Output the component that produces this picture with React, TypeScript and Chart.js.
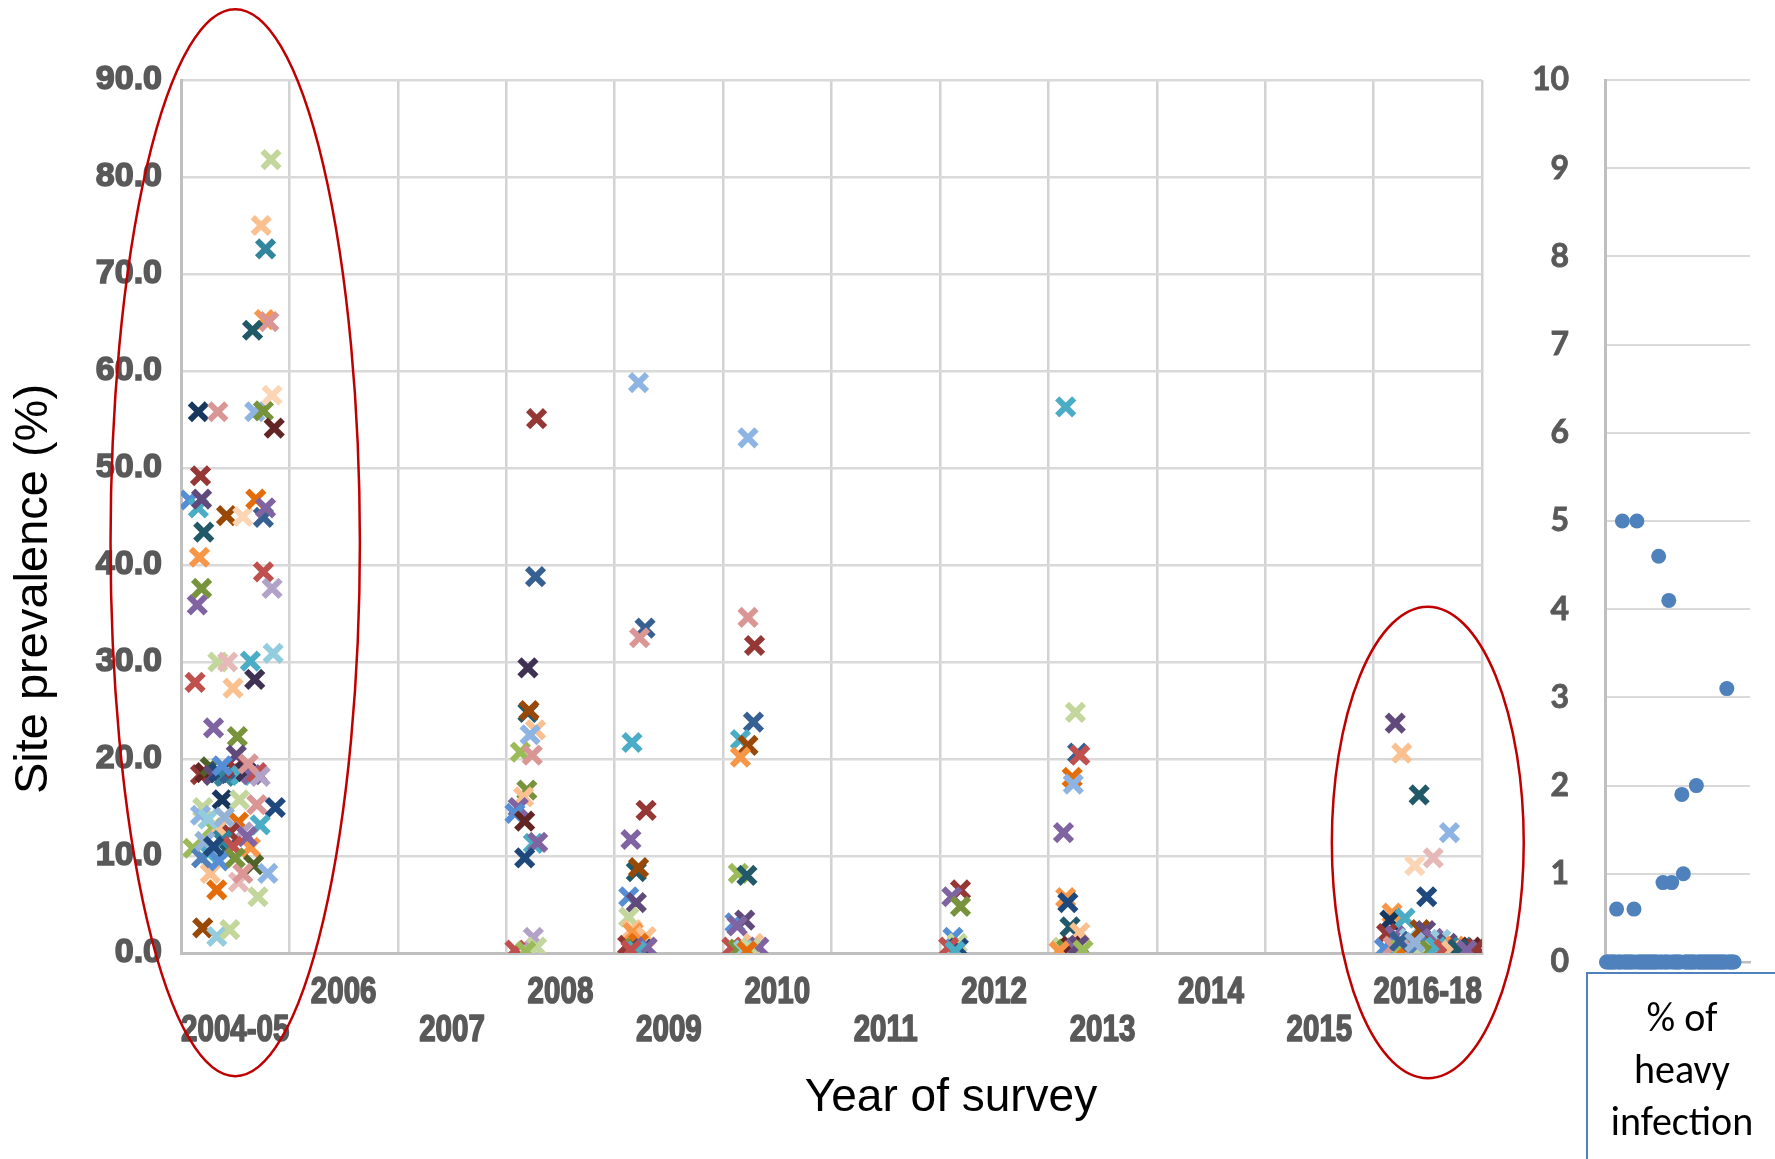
import { useEffect, useRef } from "react";
import { Chart, registerables } from "chart.js";

Chart.register(...registerables);

// ---------- categories ----------
const YEARS = ["2004-05", "2006", "2007", "2008", "2009", "2010", "2011", "2012", "2013", "2014", "2015", "2016-18"];

// ---------- colour palette (Office theme variants) ----------
const PALETTE = [
  "#4F81BD", "#C0504D", "#9BBB59", "#8064A2", "#4BACC6", "#F79646", "#1F497D", "#953735",
  "#77933C", "#604A7B", "#31859C", "#E46C0A", "#95B3D7", "#D99694", "#C3D69B", "#B3A2C7",
  "#93CDDD", "#FAC090", "#17375E", "#632523", "#4F6228", "#3F3151", "#215968", "#984807",
  "#558ED5", "#8EB4E3", "#FCD5B5", "#E6B9B8", "#376092",
];

// ---------- site prevalence (%) : [position within year, value] ----------
const pts2004_05 = [
  [0.83, 81.8], [0.74, 75.0], [0.78, 72.6], [0.77, 65.3], [0.81, 65.1], [0.66, 64.2],
  [0.16, 55.8], [0.34, 55.8], [0.68, 55.8], [0.76, 55.9], [0.84, 57.5], [0.86, 54.1],
  [0.18, 49.2], [0.08, 46.7], [0.16, 45.9], [0.19, 46.8], [0.21, 43.4], [0.17, 40.8],
  [0.19, 37.6], [0.15, 35.9], [0.42, 45.1], [0.57, 45.0], [0.69, 46.8], [0.76, 44.9],
  [0.78, 45.9], [0.76, 39.3], [0.84, 37.6], [0.13, 27.9], [0.34, 30.0], [0.43, 30.0],
  [0.64, 30.1], [0.85, 30.9], [0.48, 27.3], [0.68, 28.2], [0.30, 23.2], [0.52, 22.3],
  [0.51, 20.4], [0.18, 18.4], [0.22, 18.6], [0.27, 19.2], [0.30, 18.3], [0.35, 18.6],
  [0.40, 18.2], [0.45, 18.5], [0.50, 19.0], [0.55, 18.3], [0.60, 18.7], [0.65, 18.4],
  [0.70, 18.6], [0.73, 18.2], [0.38, 19.3], [0.62, 19.5], [0.38, 15.8], [0.54, 15.8],
  [0.70, 15.3], [0.87, 15.0], [0.20, 15.0], [0.18, 14.2], [0.73, 13.2], [0.53, 13.5],
  [0.57, 12.5], [0.45, 12.4], [0.29, 12.9], [0.34, 12.9], [0.25, 13.8], [0.40, 14.0],
  [0.11, 10.8], [0.25, 10.3], [0.42, 10.6], [0.64, 10.9], [0.67, 9.1], [0.80, 8.2],
  [0.53, 7.3], [0.27, 8.2], [0.33, 6.5], [0.71, 5.8], [0.20, 2.6], [0.33, 1.7],
  [0.45, 2.4], [0.57, 8.2], [0.19, 9.8], [0.38, 11.6], [0.61, 12.0], [0.48, 11.0],
  [0.22, 11.5], [0.35, 9.5], [0.50, 9.8], [0.30, 11.0],
];
const col2004_05 = [
  14, 17, 10, 5, 13, 22,
  18, 13, 25, 8, 26, 19,
  7, 24, 4, 9, 22, 5,
  8, 3, 23, 26, 11, 28,
  3, 1, 15, 1, 14, 27,
  4, 16, 17, 21, 3, 8,
  9, 7, 19, 20, 9, 6,
  10, 28, 7, 4, 21, 3,
  1, 15, 24, 13, 18, 14,
  13, 6, 14, 25, 4, 11,
  15, 7, 2, 17, 16, 12,
  2, 4, 22, 5, 20, 25,
  27, 17, 11, 14, 23, 16,
  14, 13, 0, 10, 3, 1,
  12, 24, 8, 6,
];

const pts2008 = [
  [0.28, 55.1], [0.27, 38.8], [0.20, 29.4], [0.20, 24.8], [0.21, 25.0], [0.27, 23.0],
  [0.22, 22.5], [0.13, 20.7], [0.24, 20.4], [0.19, 16.8], [0.16, 16.1], [0.11, 15.0],
  [0.08, 14.4], [0.17, 13.6], [0.25, 11.3], [0.29, 11.4], [0.17, 9.8], [0.25, 1.6],
  [0.08, 0.3], [0.28, 0.6], [0.18, 0.2],
];
const col2008 = [7, 28, 21, 22, 23, 17, 25, 2, 13, 8, 17, 3, 24, 19, 4, 3, 6, 15, 1, 14, 2];

const pts2009 = [
  [0.22, 58.8], [0.28, 33.5], [0.23, 32.5], [0.16, 21.7], [0.29, 14.7], [0.15, 11.7],
  [0.20, 8.4], [0.22, 8.8], [0.13, 5.8], [0.20, 5.2], [0.13, 3.7], [0.16, 2.4],
  [0.17, 2.1], [0.29, 1.7], [0.12, 0.8], [0.18, 0.5], [0.22, 1.0], [0.26, 0.4],
  [0.30, 0.6], [0.20, 0.2], [0.15, 0.3],
];
const col2009 = [25, 28, 13, 4, 7, 3, 22, 23, 24, 9, 14, 17, 5, 17, 7, 8, 11, 6, 3, 4, 1];

const pts2010 = [
  [0.23, 53.1], [0.23, 34.6], [0.29, 31.7], [0.28, 23.8], [0.16, 22.0], [0.23, 21.4],
  [0.16, 20.2], [0.14, 8.2], [0.22, 8.0], [0.11, 3.1], [0.20, 3.4], [0.13, 2.8],
  [0.28, 1.0], [0.33, 0.6], [0.08, 0.6], [0.14, 0.4], [0.19, 0.3], [0.25, 0.5], [0.22, 0.2],
];
const col2010 = [25, 13, 7, 28, 4, 23, 5, 2, 22, 24, 9, 3, 17, 3, 1, 8, 16, 14, 11];

const pts2012 = [
  [0.19, 6.5], [0.11, 5.8], [0.19, 4.8], [0.12, 1.6], [0.16, 1.0], [0.17, 0.5], [0.08, 0.6], [0.14, 0.2],
];
const col2012 = [7, 3, 8, 24, 14, 6, 1, 4];

const pts2013 = [
  [0.16, 56.3], [0.25, 24.8], [0.27, 20.6], [0.29, 20.4], [0.22, 18.1], [0.23, 17.4],
  [0.14, 12.4], [0.16, 5.7], [0.18, 5.2], [0.20, 2.7], [0.29, 2.1], [0.13, 0.6],
  [0.17, 0.4], [0.21, 0.7], [0.25, 0.5], [0.28, 0.8], [0.32, 0.3], [0.10, 0.2],
];
const col2013 = [4, 14, 28, 1, 11, 25, 3, 5, 6, 22, 17, 14, 8, 19, 3, 9, 2, 5];

const pts2016_18 = [
  [0.20, 23.7], [0.26, 20.6], [0.42, 16.3], [0.70, 12.4], [0.55, 9.8], [0.38, 9.0],
  [0.49, 5.8], [0.17, 4.1], [0.15, 3.4], [0.29, 3.6], [0.12, 2.0], [0.20, 1.8],
  [0.33, 1.5], [0.43, 2.4], [0.48, 2.3], [0.55, 1.5], [0.62, 1.4], [0.68, 1.0],
  [0.75, 0.7], [0.82, 0.6], [0.90, 0.6], [0.95, 0.5], [0.10, 0.5], [0.18, 0.7],
  [0.25, 0.4], [0.30, 0.6], [0.36, 0.3], [0.40, 0.8], [0.45, 0.5], [0.52, 0.3],
  [0.58, 0.6], [0.65, 0.4], [0.72, 0.3], [0.78, 0.4], [0.86, 0.3], [0.24, 1.2], [0.38, 1.1],
];
const col2016_18 = [
  9, 17, 22, 25, 27, 26, 6, 5, 18, 4, 7, 3,
  16, 23, 9, 3, 16, 9, 5, 10, 19, 7, 24, 13,
  2, 11, 15, 0, 14, 8, 4, 1, 17, 22, 3, 28, 12,
];

const SERIES = [
  { year: 0, pts: pts2004_05, col: col2004_05 },
  { year: 3, pts: pts2008, col: col2008 },
  { year: 4, pts: pts2009, col: col2009 },
  { year: 5, pts: pts2010, col: col2010 },
  { year: 7, pts: pts2012, col: col2012 },
  { year: 8, pts: pts2013, col: col2013 },
  { year: 11, pts: pts2016_18, col: col2016_18 },
];

// ---------- % of heavy infection, by site (site number = index + 1) ----------
const heavyInfection = [
  0, 0, 0, 0, 0, 0, 0, 0.6, 0, 0,
  0, 5.0, 0, 0, 0, 0, 0, 0, 0, 0.6,
  0, 5.0, 0, 0, 0, 0, 0, 0, 0, 0,
  0, 0, 0, 0, 0, 0, 4.6, 0, 0, 0.9,
  0, 0, 0, 4.1, 0, 0.9, 0, 0, 0, 0,
  0, 0, 1.9, 1.0, 0, 0, 0, 0, 0, 0,
  0, 0, 2.0, 0, 0, 0, 0, 0, 0, 0,
  0, 0, 0, 0, 0, 0, 0, 0, 0, 0,
  0, 0, 0, 3.1, 0, 0, 0, 0, 0,
];

// ---------- highlighted regions (data units) ----------
const HIGHLIGHTS = [
  { cx: 0.5, cy: 42.3, rx: 1.15, ry: 55.0 },
  { cx: 11.5, cy: 11.4, rx: 0.885, ry: 24.3 },
];

const GREY = "#595959";

export default function App() {
  const mainRef = useRef<HTMLCanvasElement | null>(null);
  const sideRef = useRef<HTMLCanvasElement | null>(null);

  useEffect(() => {
    const overlay = {
      id: "overlay",
      afterDraw(chart: any) {
        const ctx = chart.ctx;
        const xs = chart.scales.x;
        const ys = chart.scales.y;
        const area = chart.chartArea;
        ctx.save();
        // staggered category labels
        ctx.fillStyle = GREY;
        ctx.strokeStyle = GREY;
        ctx.lineWidth = 1.6;
        ctx.lineJoin = "round";
        ctx.font = 'bold 36px "Liberation Sans", Arial, sans-serif';
        ctx.textAlign = "center";
        ctx.textBaseline = "middle";
        YEARS.forEach((lab, i) => {
          const px = xs.getPixelForValue(i + 0.5);
          const py = area.bottom + (i % 2 === 1 ? 40 : 78);
          ctx.save();
          ctx.translate(px, py);
          ctx.scale(0.82, 1);
          ctx.fillText(lab, 0, 0);
          ctx.strokeText(lab, 0, 0);
          ctx.restore();
        });
        // axis titles
        ctx.fillStyle = "#000";
        ctx.font = '46px "Liberation Sans", Arial, sans-serif';
        ctx.fillText("Year of survey", 951, 1098);
        ctx.save();
        ctx.translate(34, 589);
        ctx.rotate(-Math.PI / 2);
        ctx.font = '47px "Liberation Sans", Arial, sans-serif';
        ctx.fillText("Site prevalence (%)", 0, 0);
        ctx.restore();
        // red ellipses
        ctx.strokeStyle = "#C00000";
        ctx.lineWidth = 2.5;
        const cw = xs.getPixelForValue(1) - xs.getPixelForValue(0);
        const uh = ys.getPixelForValue(0) - ys.getPixelForValue(1);
        HIGHLIGHTS.forEach((h) => {
          ctx.beginPath();
          ctx.ellipse(xs.getPixelForValue(h.cx), ys.getPixelForValue(h.cy), h.rx * cw, h.ry * uh, 0, 0, Math.PI * 2);
          ctx.stroke();
        });
        ctx.restore();
      },
    };

    const datasets = SERIES.map((s) => ({
      label: YEARS[s.year],
      data: s.pts.map(([o, v]) => ({ x: s.year + o, y: v })),
      pointStyle: "crossRot",
      pointRadius: 12,
      pointHoverRadius: 12,
      pointBorderWidth: 6,
      pointBorderColor: s.col.map((c) => PALETTE[c]),
      pointBackgroundColor: s.col.map((c) => PALETTE[c]),
      showLine: false,
    }));

    const main = new Chart(mainRef.current as HTMLCanvasElement, {
      type: "scatter",
      data: { datasets: datasets as any },
      options: {
        responsive: false,
        animation: false,
        layout: { padding: { left: 0, top: 80, right: 293, bottom: 206 } },
        plugins: { legend: { display: false }, tooltip: { enabled: false } },
        scales: {
          x: {
            type: "linear",
            min: 0,
            max: YEARS.length,
            ticks: { stepSize: 1, display: false },
            grid: { color: "#d2d2d2", lineWidth: 2.5, drawTicks: false },
            border: { color: "#bfbfbf", width: 3 },
            afterFit: (s: any) => { s.height = 0; },
          },
          y: {
            min: 0,
            max: 90,
            ticks: {
              stepSize: 10,
              padding: 19,
              color: GREY,
              textStrokeColor: GREY,
              textStrokeWidth: 1.6,
              font: { family: '"Liberation Sans", Arial, sans-serif', weight: "bold", size: 34 },
              callback: (v: any) => Number(v).toFixed(1),
            },
            grid: { color: "#d9d9d9", lineWidth: 2.5, drawTicks: false },
            border: { color: "#c0c0c0", width: 3 },
            afterFit: (s: any) => { s.width = 181; },
          },
        },
      },
      plugins: [overlay],
    } as any);

    const side = new Chart(sideRef.current as HTMLCanvasElement, {
      type: "scatter",
      data: {
        datasets: [
          {
            label: "% of heavy infection",
            data: heavyInfection.map((v, i) => ({ x: i + 1, y: v })),
            pointStyle: "circle",
            pointRadius: 7.5,
            pointHoverRadius: 7.5,
            pointBorderWidth: 0,
            pointBackgroundColor: "#4F81BD",
            clip: false,
          },
        ],
      } as any,
      options: {
        responsive: false,
        animation: false,
        layout: { padding: { left: 0, top: 80, right: 25, bottom: 197 } },
        plugins: { legend: { display: false }, tooltip: { enabled: false } },
        scales: {
          x: {
            type: "linear",
            min: 0,
            max: 100,
            ticks: { display: false },
            grid: { color: "rgba(0,0,0,0)", drawTicks: false },
            border: { color: "#bfbfbf", width: 2.5 },
            afterFit: (s: any) => { s.height = 0; },
          },
          y: {
            min: 0,
            max: 10,
            ticks: {
              stepSize: 1,
              padding: 36,
              color: GREY,
              textStrokeColor: GREY,
              textStrokeWidth: 0.8,
              font: { family: "Lato, 'Liberation Sans', sans-serif", weight: "bold", size: 32 },
            },
            grid: { color: "#d9d9d9", lineWidth: 2, drawTicks: false },
            border: { color: "#bfbfbf", width: 3 },
            afterFit: (s: any) => { s.width = 115; },
          },
        },
      },
    } as any);

    return () => {
      main.destroy();
      side.destroy();
    };
  }, []);

  return (
    <div style={{ position: "absolute", left: 0, top: 0, width: 1775, height: 1159, overflow: "hidden", background: "#fff" }}>
      <canvas ref={mainRef} width={1775} height={1159} style={{ position: "absolute", left: 0, top: 0 }} />
      <canvas ref={sideRef} width={285} height={1159} style={{ position: "absolute", left: 1490, top: 0 }} />
      <div
        style={{
          position: "absolute",
          left: 1586,
          top: 972,
          width: 192,
          height: 240,
          boxSizing: "border-box",
          border: "2px solid #4F81BD",
          textAlign: "center",
          fontFamily: "Carlito, Lato, 'Liberation Sans', sans-serif",
          fontSize: 40,
          lineHeight: "52px",
          paddingTop: 18,
          color: "#000",
        }}
      >
        % of<br />heavy<br />infection
      </div>
    </div>
  );
}
